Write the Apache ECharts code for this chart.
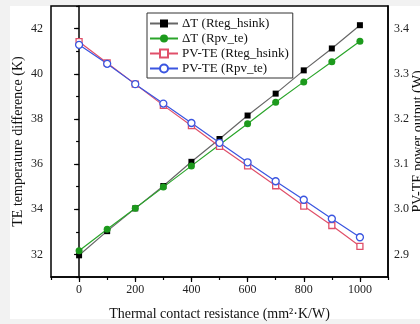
<!DOCTYPE html>
<html><head><meta charset="utf-8">
<script src="https://cdn.jsdelivr.net/npm/echarts@6/dist/echarts.min.js"></script>
<style>html,body{margin:0;padding:0;background:#f2f2f2;}#wrap{position:absolute;left:10px;top:6px;width:410px;height:313px;background:#fff;}#c{position:absolute;left:0;top:0;width:420px;height:324px;}</style>
</head><body><div id="wrap"></div><div id="c"></div>
<script>
const resistance = [0,100,200,300,400,500,600,700,800,900,1000];
const dT_teg = [31.96,33.03,34.04,35.03,36.10,37.11,38.15,39.12,40.15,41.12,42.15];
const dT_pv = [32.16,33.11,34.04,34.98,35.92,36.86,37.79,38.74,39.64,40.53,41.44];
const pv_teg = [3.371,3.324,3.277,3.230,3.185,3.139,3.096,3.052,3.007,2.964,2.918];
const pv_pv = [3.364,3.322,3.277,3.234,3.191,3.147,3.104,3.062,3.021,2.979,2.938];
const xLabels = [0,200,400,600,800,1000];
const leftLabels = [32,34,36,38,40,42];
const rightLabels = [2.9,3.0,3.1,3.2,3.3,3.4];
const names = ['ΔT (Rteg_hsink)','ΔT (Rpv_te)','PV-TE (Rteg_hsink)','PV-TE (Rpv_te)'];

const F = 'Liberation Serif, Times New Roman, serif';
const chart = echarts.init(document.getElementById('c'), null, {renderer:'canvas'});
const pair = a => resistance.map((x,i)=>[x,a[i]]);
function ser(name, data, yi, color, lineColor, symbol, size, hollow){
  return {name, type:'line', data:pair(data), yAxisIndex:yi, xAxisIndex:0,
    symbol, symbolSize:size, showSymbol:true,
    lineStyle:{color:lineColor, width:1.2},
    itemStyle:{color: hollow ? '#fff' : color, borderColor:color, borderWidth: hollow?1.3:0},
    emphasis:{disabled:true}, animation:false, z: 3};
}
chart.setOption({
  backgroundColor:'transparent',
  animation:false,
  grid:{left:51,right:32,top:6,bottom:47,show:true,borderColor:'#000',borderWidth:1.5,backgroundColor:'transparent',
    outerBoundsMode:'none', containLabel:false},
  legend:{data:names, orient:'vertical', left:147, top:13, padding:[4,4,3,2], itemGap:2,
    itemWidth:28, itemHeight:10, borderColor:'#333', borderWidth:1, backgroundColor:'#fff',
    textStyle:{fontFamily:F, fontSize:13, color:'#111', padding:[0,0,0,-1]}},
  xAxis:[
    {type:'value', min:-100, max:1100, interval:100, nameMoveOverlap:false,
     axisLine:{lineStyle:{color:'#000',width:1.5}},
     axisTick:{customValues:xLabels, length:5, lineStyle:{color:'#000',width:1.2}},
     axisLabel:{customValues:xLabels, fontFamily:F, fontSize:12, color:'#222', margin:7, formatter:v=>String(v)},
     splitLine:{show:false},
     name:'Thermal contact resistance (mm²·K/W)', nameLocation:'middle', nameGap:30,
     nameTextStyle:{fontFamily:F, fontSize:14, color:'#111'}},
    {type:'value', min:-100, max:1100, interval:100, position:'bottom',
     axisLine:{show:false}, axisTick:{length:3, lineStyle:{color:'#000',width:1.2}},
     axisLabel:{show:false}, splitLine:{show:false}}
  ],
  yAxis:[
    {type:'value', min:31, max:43, interval:1, position:'left', nameMoveOverlap:false,
     axisLine:{show:true, lineStyle:{color:'#000',width:1.5}},
     axisTick:{customValues:leftLabels, length:5, lineStyle:{color:'#000',width:1.2}},
     axisLabel:{customValues:leftLabels, fontFamily:F, fontSize:12, color:'#222', margin:8},
     splitLine:{show:false},
     name:'TE temperature difference (K)', nameLocation:'middle', nameGap:26, nameRotate:90,
     nameTextStyle:{fontFamily:F, fontSize:14, color:'#111'}},
    {type:'value', min:31, max:43, interval:1, position:'left',
     axisLine:{show:false}, axisTick:{length:3, lineStyle:{color:'#000',width:1.2}},
     axisLabel:{show:false}, splitLine:{show:false}},
    {type:'value', min:2.85, max:3.45, interval:0.05, position:'right', nameMoveOverlap:false,
     axisLine:{show:true, lineStyle:{color:'#000',width:1.5}},
     axisTick:{show:false},
     axisLabel:{customValues:rightLabels, fontFamily:F, fontSize:12, color:'#222', margin:6,
       formatter:v=>v.toFixed(1)},
     splitLine:{show:false},
     name:'PV-TE power output (W)', nameLocation:'middle', nameGap:23, nameRotate:90,
     nameTextStyle:{fontFamily:F, fontSize:14, color:'#111'}}
  ],
  series:[
    ser(names[0], dT_teg, 0, '#000', '#666', 'rect', 6, false),
    ser(names[1], dT_pv, 0, '#1c9a1c', '#2aa52a', 'circle', 7, false),
    ser(names[2], pv_teg, 2, '#e0506a', '#e0506a', 'rect', 6, true),
    ser(names[3], pv_pv, 2, '#3a55e0', '#3a55e0', 'circle', 7, true)
  ]
});
</script></body></html>
